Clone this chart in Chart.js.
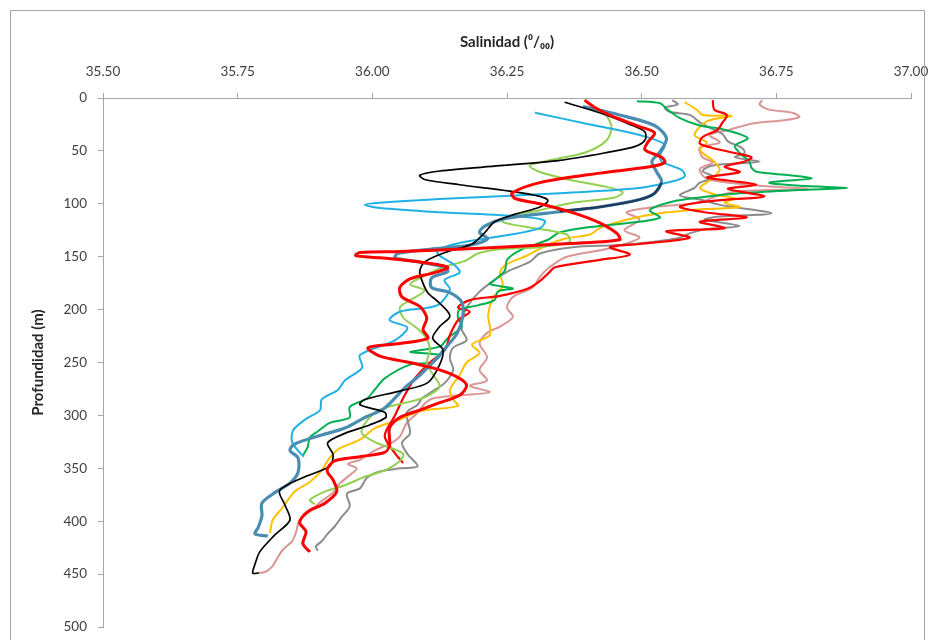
<!DOCTYPE html>
<html lang="es">
<head>
<meta charset="UTF-8">
<title>Salinidad</title>
<script src="https://cdn.jsdelivr.net/npm/chart.js@4.4.1/dist/chart.umd.min.js"></script>
<style>
  html, body { margin: 0; padding: 0; background: #fff; overflow: hidden; }
  #wrap { position: relative; width: 934px; height: 640px; }
  #marco { position: absolute; left: 10px; top: 10px; width: 913px; height: 660px; border: 1px solid #a6a6a6; pointer-events: none; }
</style>
</head>
<body>
<div id="wrap">
  <canvas id="grafico" width="934" height="640"></canvas>
  <div id="marco"></div>
</div>
<script>
// perfiles de salinidad (0/00) frente a profundidad (m)
const ticksSal = [35.50, 35.75, 36.00, 36.25, 36.50, 36.75, 37.00];
const ticksProf = [0, 50, 100, 150, 200, 250, 300, 350, 400, 450, 500];

const salNegro = [36.357,36.422,36.478,36.506,36.506,36.487,36.441,36.348,36.237,36.125,36.088,36.097,36.162,36.255,36.311,36.326,36.311,36.264,36.227,36.209,36.185,36.135,36.097,36.088,36.094,36.103,36.125,36.144,36.125,36.112,36.131,36.125,36.103,36.051,35.986,35.977,36.023,36.025,35.995,35.949,35.917,35.927,35.921,35.875,35.828,35.838,35.847,35.819,35.791,35.782,35.778,35.789];
const profNegro = [4,14,25,32,40,46,51,59,64,69,73,77,82,88,93,97,103,110,117,127,138,146,155,164,175,184,194,206,216,227,238,252,269,277,285,290,297,302,309,317,326,337,348,358,371,385,399,413,429,441,449,449];

const salCian = [36.302,36.404,36.496,36.543,36.534,36.537,36.574,36.580,36.556,36.496,36.348,36.144,36.014,35.986,36.014,36.125,36.274,36.320,36.311,36.246,36.162,36.120,36.125,36.153,36.162,36.134,36.144,36.120,36.051,36.032,36.065,36.042,35.977,35.981,35.949,35.936,35.906,35.903,35.875,35.853,35.851,35.865,35.873];
const profCian = [14,25,35,44,54,60,68,74,79,85,90,95,99,101,104,108,112,116,123,130,137,144,149,158,165,172,181,196,202,210,217,229,243,255,267,276,285,295,304,314,325,335,339];

const salAzul = [36.391,36.459,36.524,36.546,36.534,36.519,36.528,36.537,36.524,36.496,36.422,36.339,36.246,36.209,36.199,36.214,36.181,36.107,36.047,36.042,36.088,36.135,36.140,36.110,36.110,36.144,36.166,36.168,36.158,36.138,36.116,36.088,36.060,36.023,35.986,35.949,35.903,35.856,35.847,35.862,35.862,35.847,35.819,35.795,35.795,35.788,35.782,35.806];
const profAzul = [8,16,26,38,51,60,70,79,90,96,103,108,114,121,127,133,139,143,147,151,155,160,164,170,179,184,193,206,222,235,248,262,274,293,302,312,319,327,333,340,354,364,373,383,395,406,412,414];

const salMarino = [36.537,36.524,36.496,36.422,36.348];
const profMarino = [80,90,96,103,107];

const salRojo = [36.394,36.413,36.444,36.496,36.524,36.511,36.506,36.537,36.543,36.515,36.422,36.311,36.259,36.265,36.311,36.376,36.422,36.454,36.459,36.348,36.199,36.051,35.977,35.969,36.014,36.088,36.140,36.116,36.070,36.051,36.055,36.088,36.101,36.094,36.103,36.051,35.992,36.014,36.070,36.125,36.162,36.175,36.162,36.125,36.088,36.051,36.032,36.032,36.023,35.977,35.930,35.916,35.927,35.934,35.912,35.880,35.865,35.877,35.871,35.884];
const profRojo = [2,9,17,27,33,42,49,56,61,65,71,80,90,95,100,109,118,128,134,138,142,145,146,149,151,155,160,165,171,179,188,197,208,219,227,232,236,244,250,257,265,272,281,288,295,302,312,328,335,339,343,352,361,372,383,391,401,410,421,429];

const salRojo2 = [36.632,36.635,36.658,36.649,36.641,36.613,36.608,36.630,36.673,36.704,36.691,36.654,36.682,36.621,36.660,36.713,36.660,36.728,36.658,36.602,36.571,36.617,36.695,36.608,36.654,36.546,36.589,36.496,36.441,36.478,36.422,36.339,36.328,36.311,36.289,36.237,36.181,36.159,36.181,36.159,36.144,36.135,36.107,36.079,36.060,36.042,36.023,36.038,36.057];
const profRojo2 = [2,11,16,24,30,37,43,47,52,56,60,65,70,75,78,82,86,93,96,99,103,108,113,117,123,126,132,138,141,148,153,160,165,173,180,187,191,198,202,210,224,238,250,265,281,300,319,333,345];

const salVerdeClaro = [36.431,36.444,36.435,36.398,36.320,36.292,36.311,36.372,36.435,36.465,36.450,36.372,36.311,36.250,36.242,36.287,36.361,36.366,36.311,36.237,36.196,36.172,36.125,36.097,36.070,36.097,36.070,36.051,36.058,36.079,36.099,36.107,36.101,36.112,36.125,36.097,36.070,36.023,35.995,35.980,36.004,36.057,36.051,36.023,35.986,35.949,35.912,35.884,35.893];
const profVerdeClaro = [13,27,40,51,60,64,70,78,84,89,94,99,106,112,117,122,129,136,141,143,147,154,161,168,176,182,191,198,208,216,226,238,250,261,273,283,287,293,302,316,325,336,343,352,358,366,372,380,384];

const salVerde = [36.491,36.534,36.548,36.571,36.608,36.654,36.697,36.673,36.682,36.700,36.704,36.715,36.775,36.815,36.737,36.793,36.882,36.793,36.682,36.608,36.556,36.515,36.534,36.478,36.404,36.348,36.326,36.274,36.250,36.246,36.227,36.218,36.261,36.233,36.227,36.196,36.162,36.159,36.166,36.140,36.125,36.070,36.125,36.110,36.070,36.023,36.004,35.990,35.958,35.958,35.921,35.899,35.884,35.880,35.871];
const profVerde = [3,5,11,19,26,30,38,45,52,60,66,70,73,76,80,83,85,87,90,94,98,106,113,118,122,127,134,144,153,163,172,176,180,183,191,196,200,208,216,227,235,240,243,250,252,265,276,284,292,302,307,315,321,330,338];

const salAmarillo = [36.580,36.602,36.613,36.667,36.621,36.598,36.621,36.608,36.632,36.645,36.626,36.608,36.635,36.672,36.654,36.682,36.617,36.534,36.472,36.422,36.404,36.357,36.324,36.287,36.250,36.237,36.242,36.224,36.215,36.218,36.185,36.199,36.175,36.162,36.144,36.150,36.159,36.088,36.051,36.005,35.977,35.940,35.921,35.906,35.884,35.856,35.832,35.815,35.810];
const profAmarillo = [4,11,16,17,22,35,42,49,59,68,78,85,91,95,99,103,105,109,115,123,129,133,139,149,157,165,177,189,205,224,233,241,250,262,276,285,291,296,304,312,323,331,340,352,363,372,388,399,411];

const salGris = [36.557,36.567,36.543,36.552,36.589,36.608,36.630,36.650,36.660,36.686,36.691,36.673,36.719,36.673,36.630,36.613,36.635,36.608,36.598,36.571,36.608,36.645,36.741,36.645,36.617,36.682,36.617,36.589,36.571,36.520,36.459,36.372,36.311,36.292,36.255,36.227,36.199,36.175,36.166,36.166,36.175,36.150,36.144,36.150,36.135,36.112,36.092,36.084,36.064,36.066,36.070,36.055,36.066,36.084,36.051,36.014,35.990,35.977,35.953,35.958,35.943,35.930,35.917,35.906,35.895,35.899];
const profGris = [2,6,9,13,16,23,29,34,41,47,52,56,60,62,64,69,75,80,85,92,96,101,109,112,115,121,124,128,132,136,139,141,147,155,163,172,183,198,210,219,229,236,246,257,269,277,284,290,297,306,317,326,337,348,350,353,359,369,374,386,396,405,412,419,424,428];

const salRosa = [36.724,36.719,36.737,36.780,36.793,36.765,36.706,36.663,36.626,36.645,36.608,36.613,36.632,36.608,36.617,36.645,36.719,36.808,36.682,36.632,36.608,36.524,36.472,36.496,36.468,36.496,36.441,36.361,36.329,36.311,36.298,36.261,36.250,36.261,36.237,36.213,36.199,36.213,36.199,36.213,36.181,36.218,36.162,36.112,36.097,36.083,36.064,36.051,36.032,36.005,35.977,35.955,35.971,35.962,35.940,35.927,35.906,35.888,35.865,35.858,35.851,35.834,35.821,35.814,35.801,35.786];
const profRosa = [2,6,11,14,18,21,24,30,35,42,47,56,61,67,75,79,83,86,88,94,99,103,108,115,125,132,142,150,160,169,179,188,198,207,216,222,232,245,257,267,272,278,281,284,289,298,307,320,327,333,342,346,350,355,364,373,381,389,399,411,419,427,437,443,448,449];

function puntos(sal, prof) {
  return sal.map(function (s, i) { return { x: s, y: prof[i] }; });
}

function serie(sal, prof, color, ancho) {
  return {
    data: puntos(sal, prof),
    borderColor: color,
    backgroundColor: color,
    borderWidth: ancho,
    showLine: true,
    fill: false,
    pointRadius: 0,
    pointHoverRadius: 0,
    tension: 0.3
  };
}

// el primer dataset queda encima
const datasets = [
  serie(salRojo, profRojo, '#ff0000', 3),
  serie(salNegro, profNegro, '#000000', 1.7),
  serie(salMarino, profMarino, '#1f3a60', 2.4),
  serie(salAzul, profAzul, '#4a8db0', 3.2),
  serie(salCian, profCian, '#1fb1e6', 2),
  serie(salVerdeClaro, profVerdeClaro, '#92d050', 2),
  serie(salRojo2, profRojo2, '#ff0000', 2.2),
  serie(salVerde, profVerde, '#00b050', 2),
  serie(salAmarillo, profAmarillo, '#ffc000', 2),
  serie(salGris, profGris, '#8c8c8c', 2),
  serie(salRosa, profRosa, '#d99694', 2)
];

const colorEje = '#a6a6a6';
const colorTexto = '#404040';
const fuente = 'Lato, "Open Sans", sans-serif';

new Chart(document.getElementById('grafico'), {
  type: 'scatter',
  data: { datasets: datasets },
  options: {
    responsive: false,
    animation: false,
    events: [],
    layout: { padding: { left: 20, top: 30, right: 23, bottom: 13 } },
    plugins: { legend: { display: false }, tooltip: { enabled: false } },
    scales: {
      x: {
        type: 'linear',
        position: 'top',
        min: 35.5,
        max: 37,
        afterBuildTicks: function (scale) {
          scale.ticks = ticksSal.map(function (v) { return { value: v }; });
        },
        afterFit: function (scale) {
          scale.height = 68;
          scale.paddingLeft = 0;
          scale.paddingRight = 0;
        },
        ticks: {
          color: colorTexto,
          font: { family: fuente, size: 13.5 },
          padding: 13,
          maxRotation: 0,
          callback: function (v) { return v.toFixed(2); }
        },
        grid: { drawOnChartArea: false, drawTicks: true, tickLength: 5, color: colorEje },
        border: { display: true, color: colorEje, width: 1 },
        title: {
          display: true,
          text: 'Salinidad (\u2070/\u2080\u2080)',
          color: '#262626',
          font: { family: fuente, size: 15, weight: 'bold' },
          padding: { top: 3, bottom: 0 }
        }
      },
      y: {
        type: 'linear',
        reverse: true,
        min: 0,
        max: 500,
        afterBuildTicks: function (scale) {
          scale.ticks = ticksProf.map(function (v) { return { value: v }; });
        },
        afterFit: function (scale) {
          scale.width = 83;
          scale.paddingTop = 0;
          scale.paddingBottom = 0;
        },
        ticks: {
          color: colorTexto,
          font: { family: fuente, size: 13.5 },
          padding: 11
        },
        grid: { drawOnChartArea: false, drawTicks: true, tickLength: 5, color: colorEje },
        border: { display: true, color: colorEje, width: 1 },
        title: {
          display: true,
          text: 'Profundidad (m)',
          color: '#262626',
          font: { family: fuente, size: 15, weight: 'bold' },
          padding: { top: 9, bottom: 0 }
        }
      }
    }
  }
});
</script>
</body>
</html>
